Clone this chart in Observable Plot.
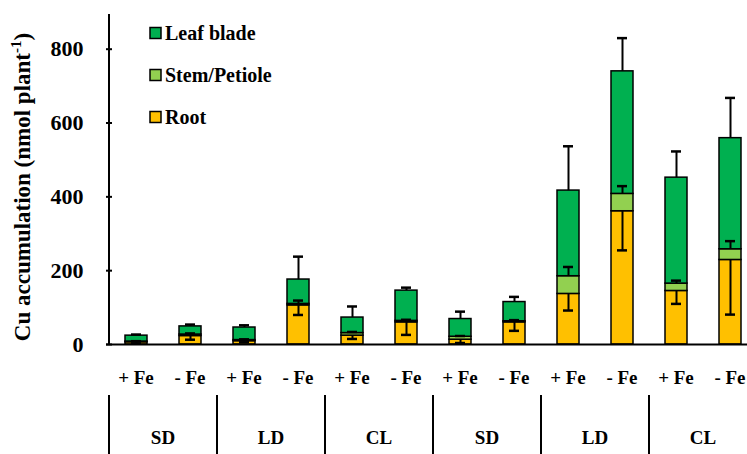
<!DOCTYPE html>
<html><head><meta charset="utf-8">
<script src="https://cdn.jsdelivr.net/npm/d3@7"></script>
<script src="https://cdn.jsdelivr.net/npm/@observablehq/plot@0.6"></script>
<style>
html,body{margin:0;padding:0;background:#fff;overflow:hidden;}
#wrap{width:747px;height:454px;overflow:hidden;}
#wrap svg{max-width:none !important;}
</style></head><body><div id="wrap"></div>
<script>
// ---- data (nmol plant-1) ----
const conditions = ["+ Fe","- Fe","+ Fe","- Fe","+ Fe","- Fe","+ Fe","- Fe","+ Fe","- Fe","+ Fe","- Fe"];
const groups = ["SD","LD","CL","SD","LD","CL"];
const root  = [6, 23, 9, 106, 24, 60, 13, 60, 137, 361, 145, 229];
const stem  = [2, 4, 3, 4, 7, 4, 8, 3, 48, 47, 20, 29];
const leaf  = [16, 22, 34, 66, 42, 82, 48, 52, 232, 332, 287, 301];
const rootErr = [3, 10, 3, 26, 9, 34, 9, 23, 45, 106, 35, 148];
const stemErr = [1, 3, 2, 9, 3, 3, 2, 3, 25, 21, 8, 22];
const totalErr = [3, 5, 6, 62, 30, 8, 20, 14, 120, 90, 71, 109];
const parts = ["Root", "Stem/Petiole", "Leaf blade"];
const partColors = ["#FFC000", "#92D050", "#00B050"];
const legendOrder = ["Leaf blade", "Stem/Petiole", "Root"];
const yTicks = [0, 200, 400, 600, 800];

const ids = d3.range(conditions.length);
const rows = [];
ids.forEach(i => {
  rows.push({id: i, part: "Root", v: root[i]});
  rows.push({id: i, part: "Stem/Petiole", v: stem[i]});
  rows.push({id: i, part: "Leaf blade", v: leaf[i]});
});
const err = ids.map(i => {
  const st = root[i] + stem[i];
  const tot = st + leaf[i];
  return {id: i, rootTop: root[i], rootLow: root[i] - rootErr[i],
          stemTop: st, stemHigh: st + stemErr[i], tot, totHigh: tot + totalErr[i]};
});

const FONT = "Liberation Serif, Times New Roman, serif";
const capOpts = {insetLeft: 6, insetRight: 6, strokeWidth: 2.5, stroke: "black"};

const plot = Plot.plot({
  width: 760, height: 454,
  marginLeft: 106, marginRight: 1, marginTop: 14, marginBottom: 110,
  style: {fontFamily: FONT, fontWeight: "bold", background: "white", maxWidth: "none"},
  x: {type: "band", domain: ids, paddingInner: 0.6, paddingOuter: 0.3, axis: null},
  y: {domain: [0, 894], axis: null},
  color: {domain: parts, range: partColors},
  marks: [
    Plot.barY(rows, {x: "id", y: "v", fill: "part", stroke: "black", strokeWidth: 1.5, order: parts}),
    Plot.ruleX(err, {x: "id", y1: "tot", y2: "totHigh", strokeWidth: 2}),
    Plot.tickY(err, {x: "id", y: "totHigh", ...capOpts}),
    Plot.ruleX(err, {x: "id", y1: "stemTop", y2: "stemHigh", strokeWidth: 2}),
    Plot.tickY(err, {x: "id", y: "stemHigh", ...capOpts}),
    Plot.ruleX(err, {x: "id", y1: "rootTop", y2: "rootLow", strokeWidth: 2}),
    Plot.tickY(err, {x: "id", y: "rootLow", ...capOpts}),
    Plot.ruleY([0], {stroke: "black", strokeWidth: 2}),
    Plot.axisY({ticks: yTicks, tickSize: -6, tickPadding: 29, fontSize: 22, fontWeight: "bold", strokeWidth: 2})
  ]
});
document.getElementById("wrap").appendChild(plot);

// ---- decorations using the plot's own scales ----
const xs = plot.scale("x"), ys = plot.scale("y");
const bw = xs.bandwidth, step = xs.step;
const svg = d3.select(plot);
const y0 = ys.apply(0), yTop = ys.apply(894);
const left = xs.apply(0) - (step - bw) / 2;

svg.append("line").attr("x1", left).attr("x2", left).attr("y1", y0 + 1).attr("y2", yTop)
  .attr("stroke", "black").attr("stroke-width", 2);

// y title
const yt = svg.append("text")
  .attr("transform", `translate(30,${(y0 + 30) / 2}) rotate(-90)`)
  .attr("text-anchor", "middle").attr("font-size", 23).attr("font-weight", "bold")
  .attr("font-family", FONT);
yt.append("tspan").text("Cu accumulation (nmol plant");
yt.append("tspan").attr("font-size", 15).attr("dy", -9).text("-1");
yt.append("tspan").attr("dy", 9).text(")");

// condition labels
ids.forEach(i => {
  svg.append("text").attr("x", xs.apply(i) + bw / 2).attr("y", y0 + 40)
    .attr("text-anchor", "middle").attr("font-size", 19).attr("font-weight", "bold")
    .attr("font-family", FONT).text(conditions[i]);
});
// group labels & separators
groups.forEach((g, k) => {
  const a = xs.apply(2 * k), b = xs.apply(2 * k + 1) + bw;
  const sep = a - (step - bw) / 2;
  svg.append("line").attr("x1", sep).attr("x2", sep).attr("y1", y0 + 51).attr("y2", 454)
    .attr("stroke", "black").attr("stroke-width", 2);
  svg.append("text").attr("x", (a + b) / 2).attr("y", y0 + 100)
    .attr("text-anchor", "middle").attr("font-size", 19).attr("font-weight", "bold")
    .attr("font-family", FONT).text(g);
});

// legend
legendOrder.forEach((p, k) => {
  const cy = 33 + k * 42;
  svg.append("rect").attr("x", 150).attr("y", cy - 5.5).attr("width", 11).attr("height", 11)
    .attr("fill", partColors[parts.indexOf(p)]).attr("stroke", "black").attr("stroke-width", 1.5);
  svg.append("text").attr("x", 165).attr("y", cy + 6.5).attr("font-size", 20)
    .attr("text-anchor", "start")
    .attr("font-weight", "bold").attr("font-family", FONT).text(p);
});
</script></body></html>
